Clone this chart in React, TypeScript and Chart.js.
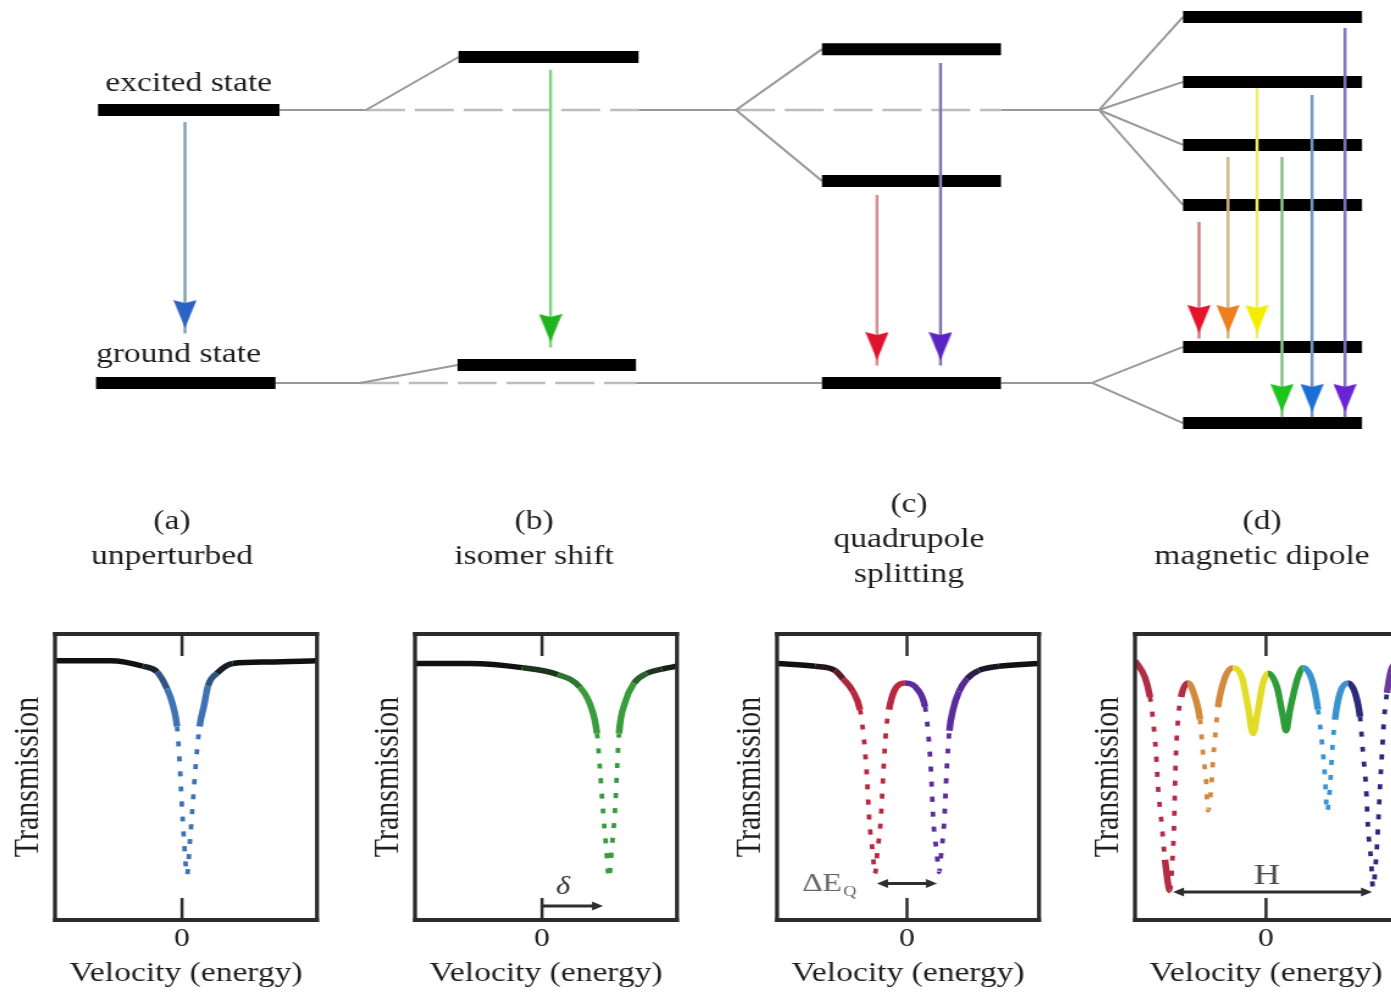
import React, { useEffect, useRef } from 'react';
import { Chart, registerables } from 'chart.js';

Chart.register(...registerables);

// The reference figure is horizontally stretched: every canvas is drawn narrower
// and widened by CSS with this factor, so text and marks keep the same look.
const STRETCH = 1.22;
const SERIF = '"Liberation Serif", "Times New Roman", serif';
const INK = '#1f1f1f';

/* ===================== energy-level diagram ===================== */
// x: diagram units (columns a..d), y: energy (arb. units, excited = 100, ground = 0)
const levelStart = [9.8, 9.6, 45.85, 45.75, 82.2, 82.2, 82.2, 118.3, 118.3, 118.3, 118.3, 118.3, 118.3];
const levelEnd = [27.95, 27.55, 63.85, 63.6, 100.1, 100.1, 100.1, 136.2, 136.2, 136.2, 136.2, 136.2, 136.2];
const levelEnergy = [100, 0, 119.4, 6.6, 122.3, 74.0, 0, 134.1, 110.3, 87.2, 65.2, 13.2, -14.7];

// connector lines [xFrom, eFrom, xTo, eTo]
const solidLinks = [
  [27.95, 100, 36.6, 100],
  [36.6, 100, 45.85, 119.4],
  [63.85, 100, 73.6, 100],
  [73.6, 100, 82.2, 122.3],
  [73.6, 100, 82.2, 74.0],
  [100.1, 100, 109.9, 100],
  [109.9, 100, 118.3, 134.1],
  [109.9, 100, 118.3, 110.3],
  [109.9, 100, 118.3, 87.2],
  [109.9, 100, 118.3, 65.2],
  [27.55, 0, 36.0, 0],
  [36.0, 0, 45.75, 6.6],
  [63.6, 0, 82.2, 0],
  [100.1, 0, 109.2, 0],
  [109.2, 0, 118.3, 13.2],
  [109.2, 0, 118.3, -14.7],
];
const dashedLinks = [
  [36.6, 100, 63.85, 100],
  [73.6, 100, 100.1, 100],
  [36.0, 0, 63.6, 0],
];

// gamma transitions
const transitionX = [18.5, 55.05, 87.7, 94.05, 119.9, 122.8, 125.7, 128.2, 131.2, 134.5];
const transitionFrom = [95.6, 114.7, 68.9, 117.2, 59.0, 82.8, 108.1, 82.8, 105.5, 130.0];
const transitionTo = [20.1, 15.0, 8.4, 8.4, 18.3, 18.3, 18.3, -10.6, -10.6, -10.6];
const shaftColors = ['#86a3b8', '#7fd67f', '#d98c8f', '#8b7ab6', '#d38088', '#cdb884', '#eeee70', '#8cc08c', '#7097c4', '#8670c0'];
const headColors = ['#2b63c4', '#1fb51f', '#e0122b', '#5b22c6', '#e8122a', '#ef7f1c', '#f2ee00', '#1ec41e', '#1b6fd6', '#6a22d6'];

const stateLabels = ['excited state', 'ground state'];

/* ===================== spectra ===================== */
const headingA = ['(a)', 'unperturbed'];
const headingB = ['(b)', 'isomer shift'];
const headingC = ['(c)', 'quadrupole', 'splitting'];
const headingD = ['(d)', 'magnetic dipole'];

const velocityA = [-6.35, -3.6, -1.95, -1.25, -0.75, -0.45, -0.25, -0.12, -0.02, 0.1, 0.25, 0.4, 0.55, 0.7, 0.88, 1.1, 1.3, 1.75, 2.55, 4.3, 6.75];
const transmissionA = [100.1, 100.1, 99.7, 99.3, 98.1, 96.9, 95.4, 92.9, 90.1, 87.3, 84.8, 87.3, 90.1, 92.9, 95.4, 96.9, 98.3, 99.2, 99.9, 100.0, 100.1];

const velocityB = [-6.35, -3.6, -1.0, 0.8, 1.9, 2.45, 2.75, 2.9, 3.05, 3.2, 3.35, 3.5, 3.65, 3.75, 3.85, 4.15, 4.6, 5.25, 6.0, 6.75];
const transmissionB = [99.9, 99.9, 99.6, 99.1, 98.2, 96.8, 94.9, 92.3, 89.4, 86.9, 84.6, 86.9, 89.4, 92.3, 94.9, 97.1, 98.5, 99.2, 99.5, 99.7];

const velocityC = [-6.5, -4.6, -3.6, -3.2, -2.7, -2.35, -2.2, -2.02, -1.88, -1.72, -1.6, -1.48, -1.32, -1.18, -1.05, -0.9, -0.65, -0.1, 0.55, 0.9, 1.05, 1.2, 1.32, 1.48, 1.6, 1.72, 1.86, 1.98, 2.12, 2.3, 2.6, 3.0, 3.6, 4.6, 6.6];
const transmissionC = [99.9, 99.7, 99.4, 98.8, 97.9, 96.6, 95.1, 92.2, 88.6, 86.5, 84.9, 86.5, 88.6, 92.2, 95.1, 96.6, 97.9, 98.5, 98.0, 96.8, 95.1, 92.2, 88.6, 86.5, 85.0, 86.5, 88.6, 92.2, 95.1, 96.6, 97.9, 98.8, 99.4, 99.7, 99.9];

const velocityD = [-6.55, -6.05, -5.8, -5.65, -5.5, -5.4, -5.2, -5.05, -4.8, -4.68, -4.6, -4.55, -4.5, -4.4, -4.25, -3.9, -3.55, -3.3, -3.15, -3.0, -2.9, -2.75, -2.65, -2.55, -2.4, -2.05, -1.65, -1.2, -0.9, -0.65, -0.4, -0.15, 0.1, 0.55, 0.85, 1.0, 1.2, 1.55, 1.85, 2.3, 2.6, 2.8, 2.95, 3.05, 3.2, 3.3, 3.45, 3.7, 4.1, 4.45, 4.7, 4.85, 5.0, 5.1, 5.25, 5.35, 5.5, 5.6, 5.7, 5.8, 5.9, 6.05, 6.25, 6.55];
const transmissionD = [100.1, 98.9, 97.5, 95.9, 93.5, 91.1, 88.2, 85.9, 83.7, 85.9, 88.2, 91.1, 93.5, 95.9, 97.5, 98.5, 97.5, 95.9, 93.5, 91.6, 89.4, 90.9, 93.0, 94.6, 96.8, 98.9, 99.6, 98.9, 96.8, 94.9, 96.6, 98.5, 99.2, 98.2, 96.1, 95.1, 96.6, 98.7, 99.6, 98.7, 96.6, 94.2, 91.8, 89.3, 91.1, 93.5, 95.9, 97.8, 98.5, 97.8, 96.1, 93.5, 91.1, 88.2, 85.9, 83.9, 85.9, 88.2, 91.1, 93.5, 95.9, 97.8, 99.4, 100.0];

const zeroTick = [0];
// annotation arrows: [from velocity, to velocity, transmission level]
const isomerShiftArrow = [0, 3.05, 82.6];
const quadrupoleArrow = [-1.5, 1.5, 84.2];
const hyperfineArrow = [-4.65, 5.3, 83.6];
// annotation labels: [velocity, transmission]
const deltaLabel = [1.05, 83.9];
const quadLabel = [-3.25, 83.65];
const fieldLabel = [0.05, 84.2];

const transmissionRange = [81.6, 102];

/* ===================== layout (page px) ===================== */
const PAGE_W = 1391;
const PAGE_H = 995;
const TOP_H = 470;
const PANEL_TOP = 480;
const BOX_TOP = 634;
const BOX_BOTTOM = 920;
const BOX_W = 262;
const Y_AXIS_W = 50;
const Y_TITLE_GAP = 26.5;
const RIGHT_PAD = 4;

type Panel = {
  heading: string[];
  vel: number[];
  tr: number[];
  range: number[];
  boxLeft: number;
  headingShift: number;
  bandEdges: number[];
  bandColors: string[];
  fade: boolean;
  kind: 'none' | 'shift' | 'quad' | 'field';
};

const panels: Panel[] = [
  { heading: headingA, vel: velocityA, tr: transmissionA, range: [-6.35, 6.75], boxLeft: 55, headingShift: -14, bandEdges: [], bandColors: ['#3e72b4'], fade: true, kind: 'none' },
  { heading: headingB, vel: velocityB, tr: transmissionB, range: [-6.35, 6.75], boxLeft: 415, headingShift: -12, bandEdges: [], bandColors: ['#3a9b3e'], fade: true, kind: 'shift' },
  { heading: headingC, vel: velocityC, tr: transmissionC, range: [-6.5, 6.6], boxLeft: 777, headingShift: 1, bandEdges: [-0.05], bandColors: ['#b8283f', '#5a2c9c'], fade: true, kind: 'quad' },
  { heading: headingD, vel: velocityD, tr: transmissionD, range: [-6.55, 6.55], boxLeft: 1135, headingShift: -4, bandEdges: [-3.9, -1.7, 0.1, 1.85, 4.1, 6.0], bandColors: ['#b12c45', '#d4893c', '#e2dc26', '#2f9c3a', '#3a93cf', '#2b2a78', '#6d3a9c'], fade: false, kind: 'field' },
];

/* ===================== helpers ===================== */
function mixHex(a: string, b: string, t: number): string {
  const pa = parseInt(a.slice(1), 16);
  const pb = parseInt(b.slice(1), 16);
  const c = (p: number, s: number) => (p >> s) & 255;
  const r = Math.round(c(pa, 16) + (c(pb, 16) - c(pa, 16)) * t);
  const g = Math.round(c(pa, 8) + (c(pb, 8) - c(pa, 8)) * t);
  const bl = Math.round(c(pa, 0) + (c(pb, 0) - c(pa, 0)) * t);
  return `rgb(${r},${g},${bl})`;
}

function makeHead(color: string): HTMLCanvasElement {
  const w = 19;
  const h = 28;
  const cv = document.createElement('canvas');
  cv.width = w;
  cv.height = 2 * h + 4;
  const g = cv.getContext('2d')!;
  g.fillStyle = color;
  g.beginPath();
  g.moveTo(0, 2);
  g.lineTo(w / 2, 5);
  g.lineTo(w, 2);
  g.lineTo(w / 2, h + 2);
  g.closePath();
  g.fill();
  return cv;
}

function arrowH(ctx: CanvasRenderingContext2D, x1: number, x2: number, y: number, both: boolean) {
  const hl = 9;
  const hw = 4.5;
  ctx.save();
  ctx.strokeStyle = '#2e2e2e';
  ctx.fillStyle = '#2e2e2e';
  ctx.lineWidth = 3;
  ctx.beginPath();
  ctx.moveTo(both ? x1 + hl - 1 : x1, y);
  ctx.lineTo(x2 - hl + 1, y);
  ctx.stroke();
  const head = (xt: number, dir: number) => {
    ctx.beginPath();
    ctx.moveTo(xt, y);
    ctx.lineTo(xt - dir * hl, y - hw);
    ctx.lineTo(xt - dir * hl, y + hw);
    ctx.closePath();
    ctx.fill();
  };
  head(x2, 1);
  if (both) head(x1, -1);
  ctx.restore();
}

function pairs(rows: number[][]) {
  return rows.flatMap((r) => [
    { x: r[0], y: r[1] },
    { x: r[2], y: r[3] },
    { x: r[2], y: null as any },
  ]);
}

/* ===================== top diagram ===================== */
function LevelDiagram() {
  const ref = useRef<HTMLCanvasElement>(null);
  const cw = Math.round(PAGE_W / STRETCH);
  useEffect(() => {
    const levelRows = levelStart.map((s, i) => [s, levelEnergy[i], levelEnd[i], levelEnergy[i]]);
    const labelPlugin = {
      id: 'stateLabels',
      afterDraw(chart: any) {
        const { ctx } = chart;
        const xs = chart.scales.x;
        const ys = chart.scales.y;
        ctx.save();
        ctx.fillStyle = INK;
        ctx.font = `27.5px ${SERIF}`;
        ctx.textBaseline = 'alphabetic';
        ctx.textAlign = 'center';
        ctx.fillText(stateLabels[0], xs.getPixelForValue((levelStart[0] + levelEnd[0]) / 2), ys.getPixelForValue(levelEnergy[0]) - 19);
        ctx.textAlign = 'left';
        ctx.fillText(stateLabels[1], xs.getPixelForValue(levelStart[1]), ys.getPixelForValue(levelEnergy[1]) - 21);
        ctx.restore();
      },
    };
    const datasets: any[] = [
      {
        data: transitionX.map((x, i) => ({ x, y: transitionTo[i] })),
        showLine: false,
        pointStyle: headColors.map((c) => makeHead(c)),
        pointRadius: 5,
        clip: false,
      },
      ...transitionX.map((x, i) => ({
        data: [{ x, y: transitionFrom[i] }, { x, y: transitionTo[i] - 2 }],
        showLine: true,
        borderColor: shaftColors[i],
        borderWidth: 2.5,
        pointRadius: 0,
      })),
      { data: pairs(levelRows), showLine: true, borderColor: '#000000', borderWidth: 12, pointRadius: 0, borderCapStyle: 'butt', clip: false },
      { data: pairs(solidLinks), showLine: true, borderColor: '#999999', borderWidth: 2, pointRadius: 0 },
      { data: pairs(dashedLinks), showLine: true, borderColor: '#bdbdbd', borderWidth: 2.5, borderDash: [32, 8], pointRadius: 0 },
    ];
    const chart = new Chart(ref.current!, {
      type: 'scatter',
      data: { datasets },
      options: {
        responsive: false,
        animation: false,
        devicePixelRatio: 1,
        events: [],
        layout: { padding: 0, autoPadding: false },
        scales: {
          x: { type: 'linear', min: 0, max: 139.1, display: false },
          y: { type: 'linear', min: -31.9, max: 140.3, display: false },
        },
        plugins: { legend: { display: false }, tooltip: { enabled: false } },
      },
      plugins: [labelPlugin],
    } as any);
    return () => chart.destroy();
  }, []);
  return (
    <canvas
      ref={ref}
      width={cw}
      height={TOP_H}
      style={{ position: 'absolute', left: 0, top: 0, width: PAGE_W, height: TOP_H }}
    />
  );
}

/* ===================== spectrum panels ===================== */
function SpectrumPanel({ p }: { p: Panel }) {
  const ref = useRef<HTMLCanvasElement>(null);
  const pageLeft = p.boxLeft - Y_AXIS_W;
  const pageW = Y_AXIS_W + BOX_W + RIGHT_PAD;
  const cw = Math.round(pageW / STRETCH);
  const s = pageW / cw;
  const ch = PAGE_H - PANEL_TOP;

  useEffect(() => {
    const steep = (c: any) => Math.abs(c.p1.y - c.p0.y) / Math.max(0.01, Math.abs(c.p1.x - c.p0.x)) > 8;
    const segColor = (c: any) => {
      const i0 = c.p0DataIndex;
      const i1 = c.p1DataIndex;
      const vm = (p.vel[i0] + p.vel[i1]) / 2;
      const tm = (p.tr[i0] + p.tr[i1]) / 2;
      const col = p.bandColors[p.bandEdges.filter((e) => vm > e).length];
      if (!p.fade) return col;
      const t = Math.max(0, Math.min(1, (99.75 - tm) / 1.5));
      return mixHex('#111111', col, t);
    };

    const decor = {
      id: 'panelDecor',
      afterDatasetsDraw(chart: any) {
        const { ctx, chartArea: a } = chart;
        const xs = chart.scales.x;
        const ys = chart.scales.y;
        ctx.save();
        // frame
        ctx.strokeStyle = '#2b2b2b';
        ctx.lineWidth = 4;
        ctx.beginPath();
        ctx.moveTo(a.left - 1.6, a.top);
        ctx.lineTo(a.right + 1.6, a.top);
        ctx.moveTo(a.left - 1.6, a.bottom);
        ctx.lineTo(a.right + 1.6, a.bottom);
        ctx.stroke();
        ctx.lineWidth = 3.3;
        ctx.beginPath();
        ctx.moveTo(a.left, a.top - 2);
        ctx.lineTo(a.left, a.bottom + 2);
        ctx.moveTo(a.right, a.top - 2);
        ctx.lineTo(a.right, a.bottom + 2);
        ctx.stroke();
        // inward tick marks
        ctx.lineWidth = 2.5;
        xs.ticks.forEach((t: any) => {
          const x = xs.getPixelForValue(t.value);
          ctx.beginPath();
          ctx.moveTo(x, a.top);
          ctx.lineTo(x, a.top + 22);
          ctx.moveTo(x, a.bottom);
          ctx.lineTo(x, a.bottom - 22);
          ctx.stroke();
        });
        // heading
        ctx.fillStyle = INK;
        ctx.font = `27.5px ${SERIF}`;
        ctx.textAlign = 'center';
        ctx.textBaseline = 'alphabetic';
        const cx = (a.left + a.right) / 2 + p.headingShift / s;
        const n = p.heading.length;
        p.heading.forEach((line, i) => {
          ctx.fillText(line, cx, a.top - 87.5 + (i - (n - 1) / 2) * 35);
        });
        // annotations
        if (p.kind === 'shift') {
          arrowH(ctx, xs.getPixelForValue(isomerShiftArrow[0]), xs.getPixelForValue(isomerShiftArrow[1]), ys.getPixelForValue(isomerShiftArrow[2]), false);
          ctx.fillStyle = '#333333';
          ctx.font = `italic 25px ${SERIF}`;
          ctx.textAlign = 'center';
          ctx.textBaseline = 'middle';
          ctx.fillText('δ', xs.getPixelForValue(deltaLabel[0]), ys.getPixelForValue(deltaLabel[1]));
        } else if (p.kind === 'quad') {
          arrowH(ctx, xs.getPixelForValue(quadrupoleArrow[0]), xs.getPixelForValue(quadrupoleArrow[1]), ys.getPixelForValue(quadrupoleArrow[2]), true);
          ctx.fillStyle = '#666666';
          ctx.font = `26px ${SERIF}`;
          ctx.textAlign = 'right';
          ctx.textBaseline = 'alphabetic';
          const lx = xs.getPixelForValue(quadLabel[0]);
          const ly = ys.getPixelForValue(quadLabel[1]);
          ctx.fillText('ΔE', lx, ly);
          ctx.font = `15px ${SERIF}`;
          ctx.textAlign = 'left';
          ctx.fillText('Q', lx + 1, ly + 5);
        } else if (p.kind === 'field') {
          arrowH(ctx, xs.getPixelForValue(hyperfineArrow[0]), xs.getPixelForValue(hyperfineArrow[1]), ys.getPixelForValue(hyperfineArrow[2]), true);
          ctx.fillStyle = '#4a4a4a';
          ctx.font = `30px ${SERIF}`;
          ctx.textAlign = 'center';
          ctx.textBaseline = 'alphabetic';
          ctx.fillText('H', xs.getPixelForValue(fieldLabel[0]), ys.getPixelForValue(fieldLabel[1]));
        }
        ctx.restore();
      },
    };

    const chart = new Chart(ref.current!, {
      type: 'line',
      data: {
        datasets: [
          {
            data: p.vel.map((v, i) => ({ x: v, y: p.tr[i] })),
            borderColor: '#111111',
            borderWidth: 5.5,
            pointRadius: 0,
            fill: false,
            cubicInterpolationMode: 'monotone',
            borderCapStyle: 'butt',
            borderJoinStyle: 'round',
            segment: {
              borderColor: segColor,
              borderDash: (c: any) => (steep(c) ? [5, 10] : undefined),
              borderWidth: (c: any) => (steep(c) ? 3.8 : 5.5),
            },
          },
        ],
      },
      options: {
        responsive: false,
        animation: false,
        devicePixelRatio: 1,
        events: [],
        layout: { padding: { top: BOX_TOP - PANEL_TOP, right: RIGHT_PAD / s, left: 0, bottom: 0 }, autoPadding: false },
        scales: {
          x: {
            type: 'linear',
            position: 'bottom',
            min: p.range[0],
            max: p.range[1],
            afterBuildTicks: (sc: any) => {
              sc.ticks = zeroTick.map((v) => ({ value: v }));
            },
            afterFit: (sc: any) => {
              sc.height = PAGE_H - BOX_BOTTOM;
            },
            ticks: { display: true, color: INK, font: { family: SERIF, size: 26 }, padding: 4, maxRotation: 0, autoSkip: false },
            grid: { display: false, drawTicks: false },
            border: { display: false },
            title: { display: true, text: 'Velocity (energy)', color: INK, font: { family: SERIF, size: 27.5 }, padding: { top: 0, bottom: 5 } },
          },
          y: {
            type: 'linear',
            min: transmissionRange[0],
            max: transmissionRange[1],
            afterFit: (sc: any) => {
              sc.width = Y_AXIS_W / s;
            },
            ticks: { display: false },
            grid: { display: false, drawTicks: false },
            border: { display: false },
            title: { display: true, text: 'Transmission', color: INK, font: { family: SERIF, size: 30 }, padding: { top: (Y_AXIS_W - Y_TITLE_GAP) / s - 18, bottom: 0 } },
          },
        },
        plugins: { legend: { display: false }, tooltip: { enabled: false } },
      },
      plugins: [decor],
    } as any);
    return () => chart.destroy();
  }, []);

  return (
    <canvas
      ref={ref}
      width={cw}
      height={ch}
      style={{ position: 'absolute', left: pageLeft, top: PANEL_TOP, width: pageW, height: ch }}
    />
  );
}

export default function App() {
  return (
    <div
      style={{
        position: 'absolute',
        left: 0,
        top: 0,
        width: PAGE_W,
        height: PAGE_H,
        overflow: 'hidden',
        background: '#ffffff',
      }}
    >
      <LevelDiagram />
      {panels.map((p, i) => (
        <SpectrumPanel key={i} p={p} />
      ))}
    </div>
  );
}
